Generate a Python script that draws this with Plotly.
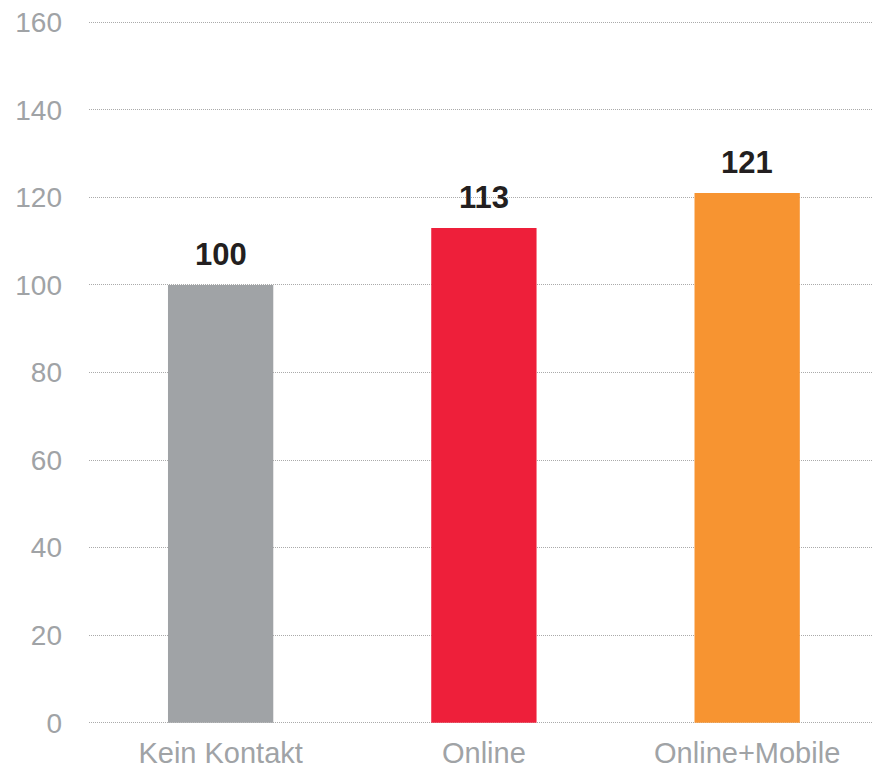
import plotly.graph_objects as go

categories = ["Kein Kontakt", "Online", "Online+Mobile"]
values = [100, 113, 121]
colors = ["#A0A3A6", "#EE1F3A", "#F79431"]
y_ticks = [0, 20, 40, 60, 80, 100, 120, 140, 160]

fig = go.Figure()
fig.add_trace(go.Bar(
    x=categories, y=values, marker_color=colors, marker_line_width=0,
    width=0.4, showlegend=False, hoverinfo="skip"))

for c, v in zip(categories, values):
    fig.add_annotation(x=c, y=v, text="<b>%d</b>" % v, showarrow=False,
                       yanchor="bottom", yshift=11,
                       font=dict(family="Liberation Sans, Arial", size=31, color="#231F20"))

fig.update_layout(
    width=873, height=771,
    margin=dict(l=89, r=0, t=20, b=46),
    paper_bgcolor="white", plot_bgcolor="white",
    bargap=0.6,
    font=dict(family="Liberation Sans, Arial", color="#A0A3A6"),
    xaxis=dict(range=[-0.5, 2.478], showgrid=False, zeroline=False, showline=False,
               automargin=False, ticks="", ticklabelstandoff=8,
               tickfont=dict(size=29, color="#A0A3A6"), fixedrange=True),
    yaxis=dict(range=[-0.5, 160.5], tickvals=y_ticks, showgrid=True,
               gridcolor="#AAAAAA", griddash="1px,1px", gridwidth=1,
               zeroline=False, showline=False, ticks="", automargin=False,
               ticklabelstandoff=26, fixedrange=True,
               tickfont=dict(size=28, color="#A0A3A6")),
)
fig.write_html("out.html", config={"displayModeBar": False},
               post_script="document.body.style.margin='0';document.body.style.overflow='hidden';")
